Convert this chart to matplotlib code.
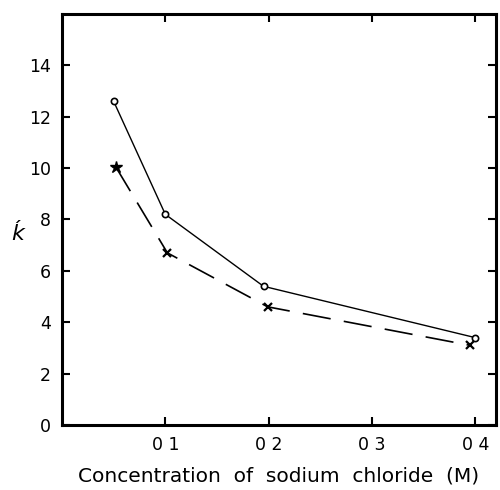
import matplotlib
matplotlib.use("Agg")
import matplotlib.pyplot as plt

# Data
conc_circle = [0.05, 0.10, 0.195, 0.40]
k_circle = [12.6, 8.2, 5.4, 3.4]
conc_cross = [0.052, 0.102, 0.199, 0.395]
k_cross = [10.05, 6.7, 4.6, 3.1]

xticks = [0.1, 0.2, 0.3, 0.4]
xtick_labels = ["0 1", "0 2", "0 3", "0 4"]
yticks = [0, 2, 4, 6, 8, 10, 12, 14]
ytick_labels = ["0", "2", "4", "6", "8", "10", "12", "14"]

fig = plt.figure(figsize=(5.0, 4.9), dpi=100)
ax = fig.add_axes([0.124, 0.1327, 0.868, 0.8387])

ax.plot(conc_circle, k_circle, color="black", lw=1.0, marker="o",
        markersize=4.5, markerfacecolor="white", markeredgewidth=1.2)
ax.plot(conc_cross, k_cross, color="black", lw=1.2, dashes=(17, 8))
ax.plot(conc_cross[:1], k_cross[:1], linestyle="none", marker="*",
        markersize=9, color="black")
ax.plot(conc_cross[1:], k_cross[1:], linestyle="none", marker="x",
        markersize=6, markeredgewidth=1.6, color="black")

ax.set_xlim(0, 0.42)
ax.set_ylim(0, 16)
ax.set_xticks(xticks)
ax.set_xticklabels(xtick_labels)
ax.set_yticks(yticks)
ax.set_yticklabels(ytick_labels)

for s in ax.spines.values():
    s.set_linewidth(2.2)

ax.tick_params(direction="in", length=6, width=1.5, top=True, right=True,
               labelsize=12.5, pad=8)

ax.set_xlabel("Concentration  of  sodium  chloride  (M)", fontsize=14.5,
              labelpad=9)
fig.text(0.036, 0.522, "ḱ", fontsize=16, style="italic", ha="center",
         va="center")

fig.savefig("out.png", dpi=100)
